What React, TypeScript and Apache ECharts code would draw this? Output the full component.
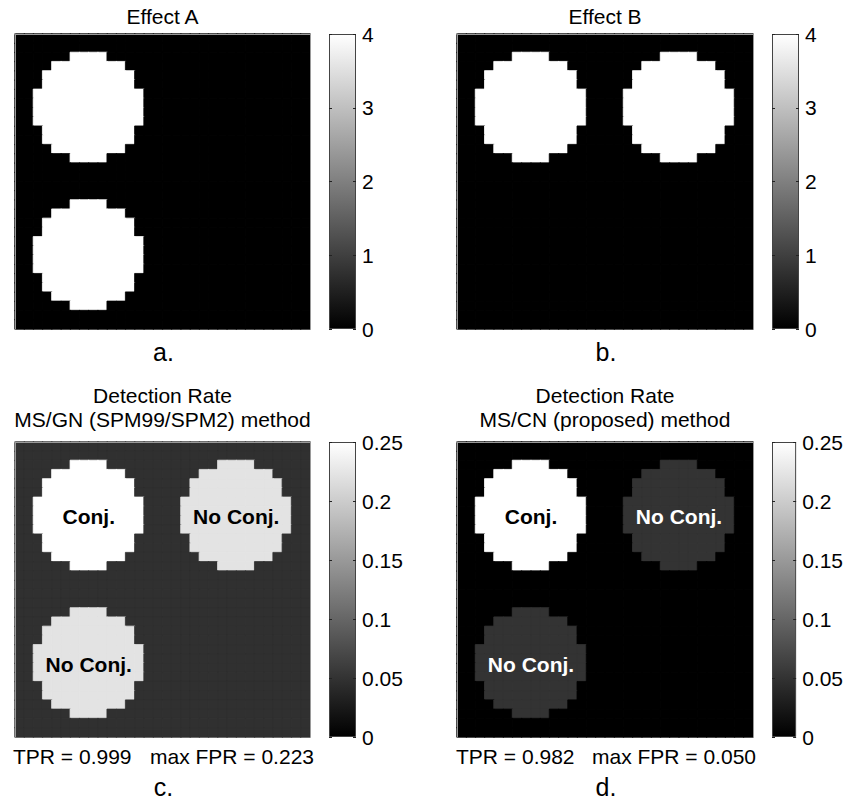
import React, { useEffect, useRef } from "react";
import * as echarts from "echarts";

// ---------- data ----------
const GRID_N = 32; // image is 32 x 32 voxels
// one "activation blob" (12 x 12 voxels), X = inside
const CIRCLE_MASK = [
  "....XXXX....",
  "..XXXXXXXX..",
  ".XXXXXXXXXX.",
  ".XXXXXXXXXX.",
  "XXXXXXXXXXXX",
  "XXXXXXXXXXXX",
  "XXXXXXXXXXXX",
  "XXXXXXXXXXXX",
  ".XXXXXXXXXX.",
  ".XXXXXXXXXX.",
  "..XXXXXXXX..",
  "....XXXX....",
];
// top-left voxel [col, row] of the three blob positions: top-left, top-right, bottom-left
const CIRCLE_ORIGINS = [
  [2, 2],
  [18, 2],
  [2, 18],
];
const CIRCLE_LABELS = ["Conj.", "No Conj.", "No Conj."];

const EFFECT_A_BG = 0;
const EFFECT_A_CIRCLES = [4, 0, 4];
const EFFECT_B_BG = 0;
const EFFECT_B_CIRCLES = [4, 4, 0];
const DET_C_BG = 0.047;
const DET_C_CIRCLES = [0.999, 0.223, 0.223];
const DET_D_BG = 0.0;
const DET_D_CIRCLES = [0.982, 0.05, 0.05];

const EFFECT_TICKS = [0, 1, 2, 3, 4];
const RATE_TICKS = [0, 0.05, 0.1, 0.15, 0.2, 0.25];

const TPR = [0.999, 0.982];
const MAX_FPR = [0.223, 0.05];

const EFFECT_TITLES = ["Effect A", "Effect B"];
const DET_TITLES = [
  ["Detection Rate", "MS/GN (SPM99/SPM2) method"],
  ["Detection Rate", "MS/CN (proposed) method"],
];
const PANEL_LETTERS = ["a.", "b.", "c.", "d."];

// ---------- helpers ----------
function buildCells(bg: number, circleVals: number[]) {
  const g: number[][] = [];
  for (let r = 0; r < GRID_N; r++) {
    g.push(new Array(GRID_N).fill(bg));
  }
  CIRCLE_ORIGINS.forEach(([oc, or], k) => {
    CIRCLE_MASK.forEach((line, mr) => {
      for (let mc = 0; mc < line.length; mc++) {
        if (line[mc] === "X") g[or + mr][oc + mc] = circleVals[k];
      }
    });
  });
  const cells: number[][] = [];
  for (let r = 0; r < GRID_N; r++)
    for (let c = 0; c < GRID_N; c++) cells.push([c, r, g[r][c]]);
  return cells;
}

// same linear gray map as the visualMap, used only to paint the seam-hiding outline
function grayOf(v: number, min: number, max: number) {
  const t = Math.max(0, Math.min(1, (v - min) / (max - min)));
  const n = Math.round(t * 255);
  return `rgb(${n},${n},${n})`;
}

const FONT = "Liberation Sans, Arial, Helvetica, sans-serif";

export default function App() {
  const ref = useRef<HTMLDivElement>(null);

  useEffect(() => {
    document.body.style.margin = "0";
    if (!ref.current) return;
    const chart = echarts.init(ref.current, undefined, { renderer: "svg" });

    const panels = [
      {
        heat: { left: 15, top: 34, width: 295, height: 295 },
        cb: { left: 329, top: 34, width: 27, height: 295 },
        ticks: EFFECT_TICKS,
        cells: buildCells(EFFECT_A_BG, EFFECT_A_CIRCLES),
        labels: null as null | string[],
        labelColors: [] as string[],
      },
      {
        heat: { left: 457, top: 34, width: 296, height: 295 },
        cb: { left: 772, top: 34, width: 27, height: 295 },
        ticks: EFFECT_TICKS,
        cells: buildCells(EFFECT_B_BG, EFFECT_B_CIRCLES),
        labels: null,
        labelColors: [],
      },
      {
        heat: { left: 15, top: 442, width: 295, height: 295 },
        cb: { left: 329, top: 442, width: 27, height: 295 },
        ticks: RATE_TICKS,
        cells: buildCells(DET_C_BG, DET_C_CIRCLES),
        labels: CIRCLE_LABELS,
        labelColors: ["#000000", "#000000", "#000000"],
      },
      {
        heat: { left: 457, top: 442, width: 296, height: 295 },
        cb: { left: 772, top: 442, width: 27, height: 295 },
        ticks: RATE_TICKS,
        cells: buildCells(DET_D_BG, DET_D_CIRCLES),
        labels: CIRCLE_LABELS,
        labelColors: ["#000000", "#ffffff", "#ffffff"],
      },
    ];

    const grid: any[] = [];
    const xAxis: any[] = [];
    const yAxis: any[] = [];
    const heatSeries: any[] = [];
    const otherSeries: any[] = [];
    const visualMap: any[] = [];
    const cats = Array.from({ length: GRID_N }, (_, i) => String(i));
    const frameLine = { show: true, lineStyle: { color: "#9a9a9a", width: 1 } };
    const hidden = {
      axisTick: { show: false },
      axisLabel: { show: false },
      splitLine: { show: false },
    };

    panels.forEach((p, i) => {
      const tmin = p.ticks[0];
      const tmax = p.ticks[p.ticks.length - 1];
      const tint = p.ticks[1] - p.ticks[0];
      grid.push({ ...p.heat, containLabel: false });
      grid.push({ ...p.cb, containLabel: false });
      const hg = 2 * i;
      const cg = 2 * i + 1;
      // x axes: 3i heat category, 3i+1 heat value overlay, 3i+2 colorbar category
      xAxis.push({
        type: "category", gridIndex: hg, data: cats, position: "bottom",
        axisLine: frameLine, z: 5, ...hidden,
      });
      xAxis.push({
        type: "value", gridIndex: hg, min: 0, max: GRID_N, position: "top",
        axisLine: frameLine, z: 5, ...hidden,
      });
      xAxis.push({
        type: "category", gridIndex: cg, data: ["cb"], show: false,
      });
      // y axes: 4i heat category, 4i+1 heat value overlay, 4i+2 cb right, 4i+3 cb left
      yAxis.push({
        type: "category", gridIndex: hg, data: cats, inverse: true, position: "left",
        axisLine: frameLine, z: 5, ...hidden,
      });
      yAxis.push({
        type: "value", gridIndex: hg, min: 0, max: GRID_N, inverse: true, position: "right",
        axisLine: frameLine, z: 5, ...hidden,
      });
      yAxis.push({
        type: "value", gridIndex: cg, min: tmin, max: tmax, interval: tint,
        position: "right", z: 5,
        axisLine: { show: false },
        splitLine: { show: false },
        axisTick: { show: true, inside: true, length: 3, lineStyle: { color: "#222", width: 1 } },
        axisLabel: {
          show: true, color: "#000", fontSize: 21, fontFamily: FONT, margin: 6,
          formatter: (v: number) => String(parseFloat(v.toFixed(4))),
        },
      });
      yAxis.push({
        type: "value", gridIndex: cg, min: tmin, max: tmax, interval: tint,
        position: "left", z: 5,
        axisLine: { show: false },
        splitLine: { show: false },
        axisLabel: { show: false },
        axisTick: { show: true, inside: true, length: 3, lineStyle: { color: "#222", width: 1 } },
      });

      heatSeries.push({
        type: "heatmap",
        xAxisIndex: 3 * i,
        yAxisIndex: 4 * i,
        data: p.cells.map((d) => ({
          value: d,
          itemStyle: { borderColor: grayOf(d[2], tmin, tmax), borderWidth: 0.8 },
        })),
        silent: true,
        emphasis: { disabled: true },
      });
      visualMap.push({
        type: "continuous",
        show: false,
        seriesIndex: i,
        min: tmin,
        max: tmax,
        inRange: { color: ["#000000", "#ffffff"] },
      });

      otherSeries.push({
        type: "bar",
        xAxisIndex: 3 * i + 2,
        yAxisIndex: 4 * i + 2,
        data: [tmax],
        barWidth: "100%",
        silent: true,
        z: 2,
        itemStyle: {
          color: new echarts.graphic.LinearGradient(0, 1, 0, 0, [
            { offset: 0, color: "#000000" },
            { offset: 1, color: "#ffffff" },
          ]),
          borderColor: "#444",
          borderWidth: 1,
        },
      });

      if (p.labels) {
        const half = CIRCLE_MASK.length / 2;
        otherSeries.push({
          type: "scatter",
          xAxisIndex: 3 * i + 1,
          yAxisIndex: 4 * i + 1,
          symbolSize: 1,
          silent: true,
          z: 4,
          itemStyle: { color: "rgba(0,0,0,0)" },
          data: CIRCLE_ORIGINS.map(([oc, or], k) => ({
            value: [oc + half, or + half],
            label: {
              show: true,
              position: "inside",
              formatter: p.labels![k],
              color: p.labelColors[k],
              textBorderWidth: 0,
              opacity: 1,
              fontSize: 21,
              fontWeight: "bold",
              fontFamily: FONT,
              offset: [0, 1],
            },
          })),
        });
      }
    });

    const centers = [162.5, 605];
    const text = (t: string, x: number, y: number, size: number, align = "center") => ({
      type: "text",
      x,
      y,
      silent: true,
      style: {
        text: t,
        fill: "#000",
        fontSize: size,
        fontFamily: FONT,
        align,
        verticalAlign: "middle",
        textAlign: align,
        textVerticalAlign: "middle",
      },
    });

    const graphics: any[] = [];
    EFFECT_TITLES.forEach((t, k) => graphics.push(text(t, centers[k], 16, 21)));
    DET_TITLES.forEach((lines, k) => {
      graphics.push(text(lines[0], centers[k], 395, 21));
      graphics.push(text(lines[1], centers[k], 419.5, 21));
    });
    graphics.push(text(PANEL_LETTERS[0], centers[0] + 1, 351.5, 25));
    graphics.push(text(PANEL_LETTERS[1], centers[1] + 1, 351.5, 25));
    graphics.push(text(PANEL_LETTERS[2], centers[0] + 1, 786.5, 25));
    graphics.push(text(PANEL_LETTERS[3], centers[1] + 1, 786.5, 25));
    const statLeftX = [131.5, 574.5];
    const statRightX = [150, 592];
    TPR.forEach((v, k) => {
      graphics.push(text(`TPR = ${v.toFixed(3)}`, statLeftX[k], 756, 21, "right"));
      graphics.push(text(`max FPR = ${MAX_FPR[k].toFixed(3)}`, statRightX[k], 756, 21, "left"));
    });

    chart.setOption({
      animation: false,
      backgroundColor: "#ffffff",
      grid,
      xAxis,
      yAxis,
      visualMap,
      series: [...heatSeries, ...otherSeries],
      graphic: { elements: graphics },
    });

    return () => {
      chart.dispose();
    };
  }, []);

  return <div ref={ref} style={{ width: 846, height: 801 }} />;
}
